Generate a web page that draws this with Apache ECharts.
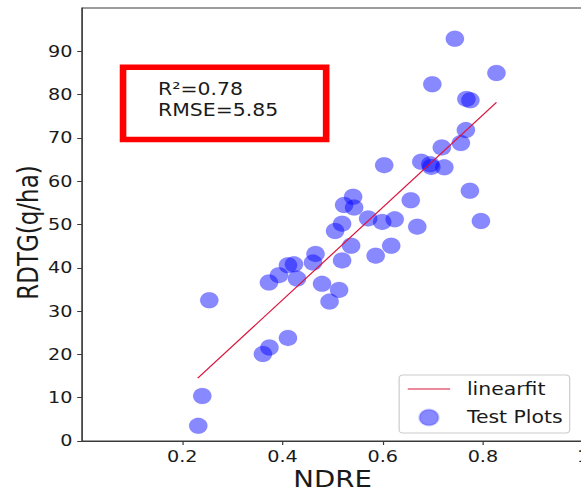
<!DOCTYPE html>
<html>
<head>
<meta charset="utf-8">
<script src="https://cdn.jsdelivr.net/npm/echarts@6/dist/echarts.min.js"></script>
<style>
html,body{margin:0;padding:0;background:#fff;overflow:hidden;width:581px;height:494px;}
#c{width:484px;height:494px;transform:scaleX(1.2004);transform-origin:0 0;}
</style>
</head>
<body>
<div id="c"></div>
<script>
// NDRE (x) and RDTG in q/ha (y) for the test plots
var ndre = [0.232,0.240,0.254,0.361,0.374,0.411,0.373,0.393,0.411,0.423,
            0.429,0.466,0.461,0.479,0.513,0.494,0.519,0.537,0.505,0.519,
            0.523,0.541,0.543,0.571,0.599,0.624,0.617,0.586,0.603,0.656,
            0.669,0.677,0.695,0.697,0.723,0.718,0.756,0.766,0.767,0.775,
            0.699,0.744,0.827,0.774,0.796];
var rdtg = [3.5,10.4,32.5,20.1,21.6,23.8,36.6,38.3,40.6,40.8,
            37.5,43.2,41.2,36.3,34.9,32.2,41.7,45.1,48.5,50.2,
            54.5,56.4,53.9,51.4,50.6,51.2,45.1,42.8,63.7,55.6,
            49.5,64.5,63.9,63.3,63.2,67.8,68.8,71.8,79.0,78.7,
            82.4,92.9,85.0,57.8,50.8];
// linear fit end points
var fitX = [0.231, 0.827];
var fitY = [14.5, 78.2];
// ticks
var xTicks = [0.2, 0.4, 0.6, 0.8, 1.0];
var yTicks = [0, 10, 20, 30, 40, 50, 60, 70, 80, 90];
var statLines = ['R\u00b2=0.78', 'RMSE=5.85'];

var scatterData = ndre.map(function (x, i) { return [x, rdtg[i]]; });
var fitData = fitX.map(function (x, i) { return [x, fitY[i]]; });

var FONT = 'DejaVu Sans';
var TXT = '#1a1a1a';
var AX = '#3a3a3a';

var chart = echarts.init(document.getElementById('c'), null, {renderer: 'svg'});
chart.setOption({
  animation: false,
  backgroundColor: '#fff',
  textStyle: {fontFamily: FONT},
  grid: {
    left: 68.3, right: -1.8, top: 8, bottom: 53,
    show: true, borderColor: AX, borderWidth: 1,
    containLabel: false, outerBoundsMode: 'none'
  },
  xAxis: {
    type: 'value', min: 0, max: 1,
    name: 'NDRE', nameLocation: 'middle', nameGap: 26, nameMoveOverlap: false,
    nameTextStyle: {fontSize: 23, color: TXT, fontFamily: FONT},
    axisLine: {show: true, lineStyle: {color: AX, width: 1}},
    axisTick: {show: true, length: 4, lineStyle: {color: AX}, customValues: xTicks},
    axisLabel: {
      fontSize: 16, color: TXT, fontFamily: FONT, margin: 8,
      customValues: xTicks, showMaxLabel: true, showMinLabel: true,
      formatter: function (v) { return v === 1 ? '1' : v.toFixed(1); }
    },
    splitLine: {show: false}
  },
  yAxis: {
    type: 'value', min: 0, max: 100,
    name: 'RDTG(q/ha)', nameLocation: 'middle', nameGap: 33.5, nameMoveOverlap: false,
    nameTextStyle: {fontSize: 23, color: TXT, fontFamily: FONT, padding: [0, 16, 0, 0]},
    axisLine: {show: true, lineStyle: {color: AX, width: 1}},
    axisTick: {show: true, length: 4, lineStyle: {color: AX}, customValues: yTicks},
    axisLabel: {fontSize: 16, color: TXT, fontFamily: FONT, margin: 8, customValues: yTicks},
    splitLine: {show: false}
  },
  legend: {
    orient: 'vertical',
    left: 332.5, top: 375,
    padding: [5.5, 5.8, 6.5, 7.2],
    itemGap: 11,
    itemWidth: 35.3, itemHeight: 16,
    backgroundColor: 'rgba(255,255,255,0.8)',
    borderColor: '#cccccc', borderWidth: 1, borderRadius: 3,
    textStyle: {fontSize: 17, color: TXT, fontFamily: FONT, padding: [0, 0, 0, 9]},
    data: [
      {name: 'linearfit', icon: 'path://M0,0L100,0L100,3L0,3Z'},
      {name: 'Test Plots', icon: 'circle'}
    ]
  },
  series: [
    {
      name: 'linearfit', type: 'line', data: fitData,
      symbol: 'none', z: 3,
      lineStyle: {color: '#dc143c', width: 1.1},
      itemStyle: {color: '#dc143c'}
    },
    {
      name: 'Test Plots', type: 'scatter', data: scatterData,
      symbol: 'circle', symbolSize: [15.3, 16], z: 2,
      itemStyle: {color: 'rgba(0,0,255,0.58)', borderColor: 'rgba(0,0,255,0.2)', borderWidth: 0.5}
    }
  ],
  graphic: [
    {
      type: 'rect', z: 10,
      shape: {x: 102.5, y: 67.2, width: 169.2, height: 72.3},
      style: {fill: 'none', stroke: '#ff0000', lineWidth: 5.5}
    },
    {
      type: 'text', z: 10, x: 131.7, y: 89,
      style: {text: statLines[0], font: '17px "DejaVu Sans"', fill: TXT, verticalAlign: 'middle', align: 'left'}
    },
    {
      type: 'text', z: 10, x: 131.7, y: 110.5,
      style: {text: statLines[1], font: '17px "DejaVu Sans"', fill: TXT, verticalAlign: 'middle', align: 'left'}
    }
  ]
});
</script>
</body>
</html>
